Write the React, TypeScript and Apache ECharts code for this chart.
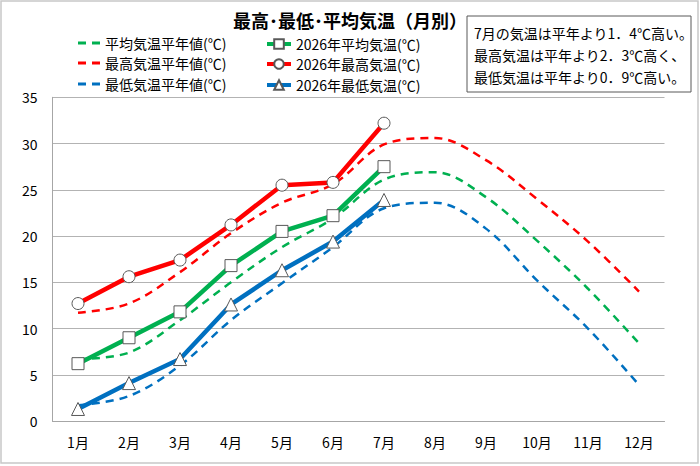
import React, { useEffect, useRef } from 'react';
import * as echarts from 'echarts';

const FONT = '"Noto Sans CJK JP", "Noto Sans", sans-serif';

const months = ['1月', '2月', '3月', '4月', '5月', '6月', '7月', '8月', '9月', '10月', '11月', '12月'];
const avgNormal = [6.7, 7.4, 10.9, 15.0, 18.8, 21.9, 26.1, 26.9, 24.2, 19.5, 14.3, 8.4];
const avg2026 = [6.2, 9.0, 11.8, 16.8, 20.5, 22.2, 27.5];
const maxNormal = [11.7, 12.7, 16.1, 20.3, 23.6, 25.6, 29.9, 30.6, 28.2, 24.0, 19.4, 14.0];
const max2026 = [12.7, 15.6, 17.4, 21.2, 25.5, 25.8, 32.2];
const minNormal = [1.7, 2.7, 6.0, 10.9, 14.9, 18.8, 23.0, 23.6, 20.8, 15.2, 10.0, 3.9];
const min2026 = [1.3, 4.1, 6.7, 12.6, 16.3, 19.4, 23.9];
const yMin = 0;
const yMax = 35;
const yStep = 5;

const titleText = '最高･最低･平均気温（月別）';
const noteLines = [
  '7月の気温は平年より1．4℃高い。',
  '最高気温は平年より2．3℃高く、',
  '最低気温は平年より0．9℃高い。',
];

const names = [
  '平均気温平年値(℃)',
  '2026年平均気温(℃)',
  '最高気温平年値(℃)',
  '2026年最高気温(℃)',
  '最低気温平年値(℃)',
  '2026年最低気温(℃)',
];

const GREEN = '#00b050';
const RED = '#ff0000';
const BLUE = '#0070c0';

const DASH_ICON = 'path://M0 0H8V3H0Z M14 0H22V3H14Z';

export default function App() {
  const ref = useRef<HTMLDivElement>(null);
  useEffect(() => {
    document.body.style.margin = '0';
    if (!ref.current) return;
    const chart = echarts.init(ref.current, null, { renderer: 'svg' });

    const dashed = (name: string, data: number[], color: string) => ({
      name,
      type: 'line',
      data,
      smooth: 0.35,
      showSymbol: false,
      symbol: 'none',
      lineStyle: { color, width: 2.5, type: [8, 6] },
      itemStyle: { color },
      z: 2,
    });
    const solid = (name: string, data: number[], color: string, symbol: string, size: number) => ({
      name,
      type: 'line',
      data,
      symbol,
      symbolSize: size,
      showSymbol: true,
      lineStyle: { color, width: 4.5 },
      itemStyle: { color: '#ffffff', borderColor: '#595959', borderWidth: 1 },
      z: 3,
    });

    const legendDashed = (name: string, color: string, left: number, top: number) => ({
      data: [{ name, icon: DASH_ICON, itemStyle: { color } }],
      left,
      top,
      padding: 0,
      orient: 'horizontal',
      itemWidth: 22,
      itemHeight: 3,
      selectedMode: false,
      textStyle: { fontSize: 14, color: '#000', fontFamily: FONT },
    });
    const legendSolid = (name: string, left: number, top: number) => ({
      data: [name],
      left,
      top,
      padding: 0,
      orient: 'horizontal',
      itemWidth: 24,
      itemHeight: 12,
      selectedMode: false,
      textStyle: { fontSize: 14, color: '#000', fontFamily: FONT },
      lineStyle: { width: 4 },
    });

    chart.setOption({
      animation: false,
      backgroundColor: '#ffffff',
      title: {
        text: titleText,
        left: 'center',
        top: 11,
        padding: 0,
        textStyle: { fontSize: 18, fontWeight: 'bold', color: '#000', fontFamily: FONT },
      },
      legend: [
        legendDashed(names[0], GREEN, 78, 36),
        legendSolid(names[1], 265, 37),
        legendDashed(names[2], RED, 78, 56),
        legendSolid(names[3], 265, 57),
        legendDashed(names[4], BLUE, 78, 77),
        legendSolid(names[5], 265, 78),
      ],
      grid: { left: 52.5, right: 35.5, top: 97.3, bottom: 45, containLabel: false },
      xAxis: {
        type: 'category',
        data: months,
        boundaryGap: true,
        axisLine: { lineStyle: { color: '#a6a6a6', width: 1 } },
        axisTick: { show: false },
        axisLabel: { color: '#000', fontSize: 14, fontFamily: FONT, margin: 14 },
      },
      yAxis: {
        type: 'value',
        min: yMin,
        max: yMax,
        interval: yStep,
        axisLine: { show: true, lineStyle: { color: '#a6a6a6', width: 1 } },
        axisTick: { show: false },
        axisLabel: { color: '#000', fontSize: 14, fontFamily: FONT, margin: 15 },
        splitLine: { lineStyle: { color: '#b3b3b3', width: 1 } },
      },
      series: [
        dashed(names[0], avgNormal, GREEN),
        dashed(names[2], maxNormal, RED),
        dashed(names[4], minNormal, BLUE),
        solid(names[1], avg2026, GREEN, 'rect', 12),
        solid(names[3], max2026, RED, 'circle', 12),
        solid(names[5], min2026, BLUE, 'triangle', 13),
      ],
      graphic: [
        {
          type: 'rect',
          shape: { x: 1, y: 1, width: 697, height: 462 },
          style: { fill: 'none', stroke: '#c8c8c8', lineWidth: 1.5 },
          silent: true,
        },
        {
          type: 'rect',
          shape: { x: 467, y: 16, width: 224, height: 76 },
          style: { fill: '#ffffff', stroke: '#595959', lineWidth: 1 },
          z: 10,
        },
        {
          type: 'text',
          x: 474,
          y: 22,
          z: 11,
          style: {
            text: noteLines.join('\n'),
            font: `14px ${FONT}`,
            fill: '#000',
            lineHeight: 22,
            verticalAlign: 'top',
          },
        },
      ],
    });
    return () => chart.dispose();
  }, []);
  return <div ref={ref} style={{ width: 700, height: 466 }} />;
}
